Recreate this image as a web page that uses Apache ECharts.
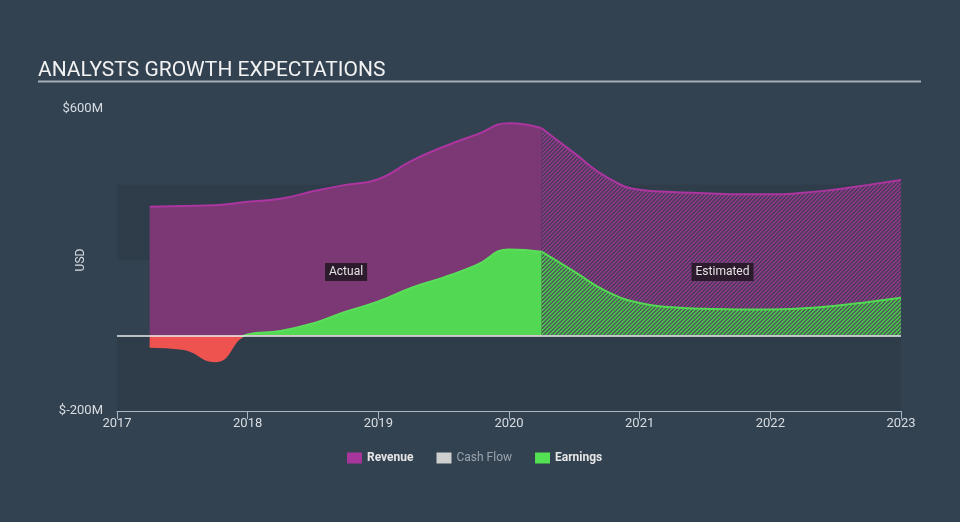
<!DOCTYPE html>
<html>
<head>
<meta charset="utf-8">
<script src="https://cdn.jsdelivr.net/npm/echarts@6/dist/echarts.min.js"></script>
<style>
html,body{margin:0;padding:0;background:#334251;}
#chart{width:960px;height:522px;}
</style>
</head>
<body>
<div id="chart"></div>
<script>
// ---- data ----
const titleText = 'ANALYSTS GROWTH EXPECTATIONS';
const xTicks = [2017, 2018, 2019, 2020, 2021, 2022, 2023];
const yTickLabels = { '600': '$600M', '-200': '$-200M' };
const actualYears = [2017.25, 2017.5, 2017.75, 2018.0, 2018.25, 2018.5, 2018.75, 2019.0, 2019.25, 2019.5, 2019.75, 2020.0, 2020.25];
const revenueActual = [341, 343, 345, 354, 362, 382, 399, 414, 462, 500, 532, 562, 549];
const earningsActual = [-30, -35, -68, 3, 12, 32, 63, 90, 126, 154, 186, 228, 222];
const estimatedYears = [2020.25, 2020.5, 2020.75, 2021.0, 2021.25, 2021.5, 2021.75, 2022.0, 2022.25, 2022.5, 2022.75, 2023.0];
const revenueEstimated = [549, 483, 419, 386, 380, 377, 374, 374, 378, 387, 399, 412];
const earningsEstimated = [222, 169, 116, 86, 75, 71, 69, 69, 72, 79, 89, 100];
const annotations = [
  { text: 'Actual', x: 2018.753, y: 168 },
  { text: 'Estimated', x: 2021.634, y: 168 }
];
const legendNames = ['Revenue', 'Cash Flow', 'Earnings'];

const pairs = (xs, ys) => xs.map((x, i) => [x, ys[i]]);

// ---- patterns ----
function hatch(bg, fg) {
  const c = document.createElement('canvas');
  c.width = 4; c.height = 4;
  const ctx = c.getContext('2d');
  ctx.fillStyle = bg; ctx.fillRect(0, 0, 4, 4);
  ctx.fillStyle = fg;
  for (let i = 0; i < 4; i++) {
    ctx.fillRect(i, 3 - i, 1, 1);
    ctx.fillRect(i, (4 - i) % 4, 1, 1);
  }
  return c;
}
const purpleHatch = { image: hatch('#4f3a5b', '#8a3a88'), repeat: 'repeat' };
const greenHatch = { image: hatch('#4e6158', '#4cc04c'), repeat: 'repeat' };

// red below zero / green above zero, split at the zero level of the earnings extent
const eMax = Math.max(...earningsActual), eMin = Math.min(...earningsActual);
const zeroOff = eMax / (eMax - eMin);
function posNeg(pos, neg) {
  return new echarts.graphic.LinearGradient(0, 0, 0, 1, [
    { offset: 0, color: pos }, { offset: zeroOff, color: pos },
    { offset: zeroOff, color: neg }, { offset: 1, color: neg }
  ]);
}

const FONT = 'Roboto, "Noto Sans", sans-serif';
const chart = echarts.init(document.getElementById('chart'), null, { renderer: 'canvas' });

const option = {
  backgroundColor: '#334251',
  animation: false,
  title: {
    text: titleText, left: 33, top: 55,
    textStyle: { color: '#f2f2f2', fontSize: 21, fontWeight: 'normal', fontFamily: FONT }
  },
  graphic: [{
    type: 'line', shape: { x1: 38, y1: 81.5, x2: 921, y2: 81.5 },
    style: { stroke: '#a7aeb5', lineWidth: 2 }
  }],
  grid: { left: 117, right: 59, top: 109, bottom: 111 },
  legend: {
    bottom: 53, left: 342, itemWidth: 15, itemHeight: 11, itemGap: 23,
    icon: 'rect', selectedMode: false,
    textStyle: { color: '#e6e6e6', fontSize: 12, fontWeight: 'bold', fontFamily: FONT },
    data: [
      { name: legendNames[0], itemStyle: { color: '#a8359c' } },
      { name: legendNames[1], itemStyle: { color: '#cfcfcf' }, textStyle: { color: '#9aa4ae', fontWeight: 'normal' } },
      { name: legendNames[2], itemStyle: { color: '#53e053' } }
    ]
  },
  xAxis: {
    type: 'value', min: xTicks[0], max: xTicks[xTicks.length - 1], interval: 1,
    axisLine: { show: true, onZero: false, lineStyle: { color: '#a9b5c2', width: 1 } },
    axisTick: { show: true, length: 8, lineStyle: { color: '#a9b5c2' } },
    axisLabel: { color: '#d8dde2', fontSize: 13, margin: 6, fontFamily: FONT, formatter: v => String(v) },
    splitLine: { show: false }
  },
  yAxis: {
    type: 'value', min: -200, max: 600, interval: 200,
    name: 'USD', nameLocation: 'middle', nameGap: 30, nameRotate: 90, nameMoveOverlap: false,
    nameTextStyle: { color: '#d8dde2', fontSize: 12, fontFamily: FONT },
    axisLine: { show: false }, axisTick: { show: false },
    axisLabel: { color: '#d8dde2', fontSize: 13, margin: 14, fontFamily: FONT,
      formatter: v => yTickLabels[String(v)] || '' },
    splitLine: { show: false },
    splitArea: { show: true, areaStyle: { color: ['rgba(0,0,0,0.075)', 'rgba(0,0,0,0)'] } }
  },
  series: [
    {
      name: 'Revenue', type: 'line', data: pairs(actualYears, revenueActual), z: 2,
      smooth: 0.5, showSymbol: false,
      lineStyle: { color: '#ac35a0', width: 2 },
      itemStyle: { color: '#ac35a0' },
      areaStyle: { color: '#7b3874', opacity: 1 }
    },
    {
      name: 'Revenue', type: 'line', data: pairs(estimatedYears, revenueEstimated), z: 2,
      smooth: 0.5, showSymbol: false,
      lineStyle: { color: '#ac35a0', width: 2 },
      itemStyle: { color: '#ac35a0' },
      areaStyle: { color: purpleHatch, opacity: 1 },
      markPoint: {
        symbol: 'rect', symbolSize: 0, silent: true,
        label: {
          show: true, position: 'inside', color: '#e4e4e4', fontSize: 12, fontFamily: FONT,
          backgroundColor: '#2c1b2d', padding: [3, 4, 3, 4],
          formatter: p => p.name
        },
        data: annotations.map(a => ({ name: a.text, coord: [a.x, a.y] }))
      }
    },
    { name: 'Cash Flow', type: 'line', data: [], itemStyle: { color: '#cfcfcf' } },
    {
      name: 'Earnings', type: 'line', data: pairs(actualYears, earningsActual), z: 3,
      smooth: 0.5, showSymbol: false,
      lineStyle: { width: 2, color: posNeg('#5ade5a', '#ef5350') },
      itemStyle: { color: '#53d853' },
      areaStyle: { opacity: 1, color: posNeg('#53d853', '#ef5350') }
    },
    {
      name: 'Earnings', type: 'line', data: pairs(estimatedYears, earningsEstimated), z: 3,
      smooth: 0.5, showSymbol: false,
      lineStyle: { color: '#53d853', width: 2 },
      itemStyle: { color: '#53d853' },
      areaStyle: { color: greenHatch, opacity: 1 },
      markLine: {
        silent: true, symbol: 'none', label: { show: false },
        lineStyle: { color: '#e8ecef', width: 1.5, type: 'solid' },
        data: [{ yAxis: 0 }]
      }
    }
  ]
};
chart.setOption(option);
</script>
</body>
</html>
